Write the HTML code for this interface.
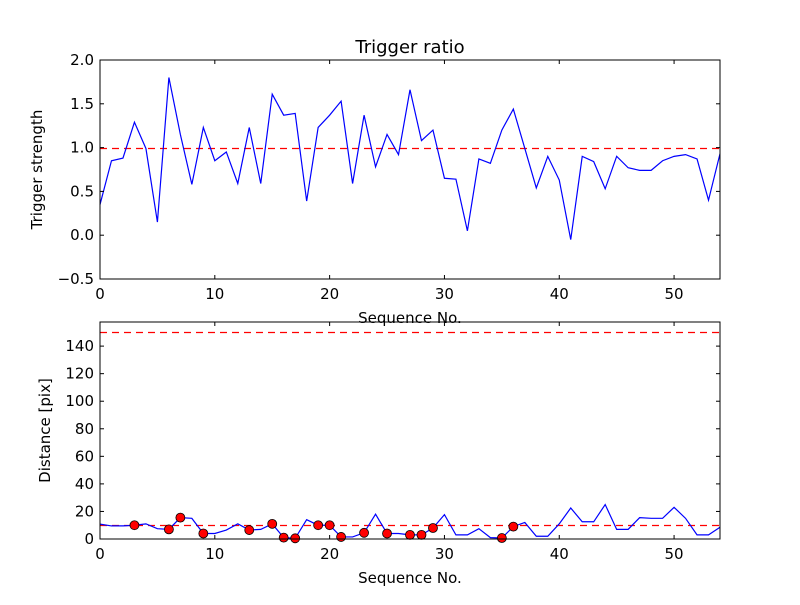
<!DOCTYPE html>
<html><head><meta charset="utf-8"><style>
body{margin:0;background:#fff}
svg text{font-family:"DejaVu Sans","Liberation Sans",sans-serif;font-size:15px;fill:#000}
svg text.title{font-size:18px}
</style></head><body>
<svg id="chart" width="800" height="600" xmlns="http://www.w3.org/2000/svg"></svg>
<script>
const seqTop = [0.35,0.85,0.88,1.29,0.99,0.15,1.80,1.15,0.58,1.23,0.85,0.95,0.59,1.23,0.59,1.61,1.37,1.39,0.39,1.23,1.37,1.53,0.59,1.37,0.78,1.15,0.92,1.66,1.08,1.20,0.65,0.64,0.05,0.87,0.82,1.20,1.44,0.99,0.54,0.90,0.63,-0.05,0.90,0.84,0.53,0.90,0.77,0.74,0.74,0.85,0.90,0.92,0.87,0.40,0.93];
const distance = [10.8,9.5,9.5,10,11,7.5,7,15.5,15,4,4,6.5,11,6.5,7,11,1,0.5,14,10,10,1.5,1.5,4.5,18,4,4,3,3,8,17.7,3,3,7.5,1,0.7,9,12,2,2,11,22.5,12.5,12.5,25,7,7,15.5,15,15,23,15,3,3,8.5];
const markerIdx = [3,6,7,9,13,15,16,17,19,20,21,23,25,27,28,29,35,36];
const topYTicks = [-0.5,0.0,0.5,1.0,1.5,2.0];
const botYTicks = [0,20,40,60,80,100,120,140];
const xTicks = [0,10,20,30,40,50];
const topThreshold = 1.0;
const botThresholds = [10,150];

const svg = document.getElementById('chart');
const NS = 'http://www.w3.org/2000/svg';
function mk(tag, attrs, parent){const e=document.createElementNS(NS,tag);for(const k in attrs)e.setAttribute(k,attrs[k]);(parent||svg).appendChild(e);return e;}
const X0=100,X1=720,XMAX=54;
const sx=v=>X0+(v/XMAX)*(X1-X0);

function panel(name, yTop, yBot, ymin, ymax, ticks, fmt, data, thresholds, ylabel, ylx, title, markers){
  const sy=v=>yBot-(v-ymin)/(ymax-ymin)*(yBot-yTop);
  const g=mk('g',{});
  
  
  thresholds.forEach(t=>{const yy=Math.round(sy(t))+0.5;const l=mk('line',{x1:X0,x2:X1,y1:yy,y2:yy,stroke:'#ff0000','stroke-width':1.3,'stroke-dasharray':'7,5'},g);
    });
  const p=mk('polyline',{points:data.map((v,i)=>sx(i)+','+sy(v)).join(' '),fill:'none',stroke:'#00f','stroke-width':1.2},g);
  
  if(markers){markers.forEach(i=>{const c=mk('circle',{cx:sx(i),cy:sy(data[i]),r:4.5,fill:'#f00',stroke:'#000','stroke-width':0.8},g);
    });}
  const f=mk('rect',{x:X0,y:yTop,width:X1-X0,height:yBot-yTop,fill:'none',stroke:'#000','stroke-width':1},g);
  
  ticks.forEach(t=>{const y=sy(t);
    mk('line',{x1:X0,x2:X0+4,y1:y,y2:y,stroke:'#000'},g);mk('line',{x1:X1,x2:X1-4,y1:y,y2:y,stroke:'#000'},g);
    const tx=mk('text',{x:X0-6,y:y+5,'text-anchor':'end'},g);tx.textContent=fmt(t);
    });
  xTicks.forEach(t=>{const x=sx(t);
    mk('line',{x1:x,x2:x,y1:yBot,y2:yBot-4,stroke:'#000'},g);mk('line',{x1:x,x2:x,y1:yTop,y2:yTop+4,stroke:'#000'},g);
    const tx=mk('text',{x:x,y:yBot+20,'text-anchor':'middle'},g);tx.textContent=t;
    });
  const xl=mk('text',{x:(X0+X1)/2,y:yBot+44,'text-anchor':'middle'},g);xl.textContent='Sequence No.';
  
  const yc=(yTop+yBot)/2;
  const yl=mk('text',{x:ylx,y:yc,'text-anchor':'middle',transform:'rotate(-90 '+ylx+' '+yc+')'},g);yl.textContent=ylabel;
  
  if(title){const tt=mk('text',{x:(X0+X1)/2,y:yTop-7,'text-anchor':'middle','class':'title'},g);tt.textContent=title;
    }
}
panel('trigger-ratio-panel',60,279,-0.5,2.0,topYTicks,t=>t.toFixed(1).replace('-','\u2212'),seqTop,[topThreshold],'Trigger strength',42,'Trigger ratio',null);
panel('distance-panel',322,539,0,157.5,botYTicks,t=>String(t),distance,botThresholds,'Distance [pix]',50,null,markerIdx);
</script>
</body></html>
